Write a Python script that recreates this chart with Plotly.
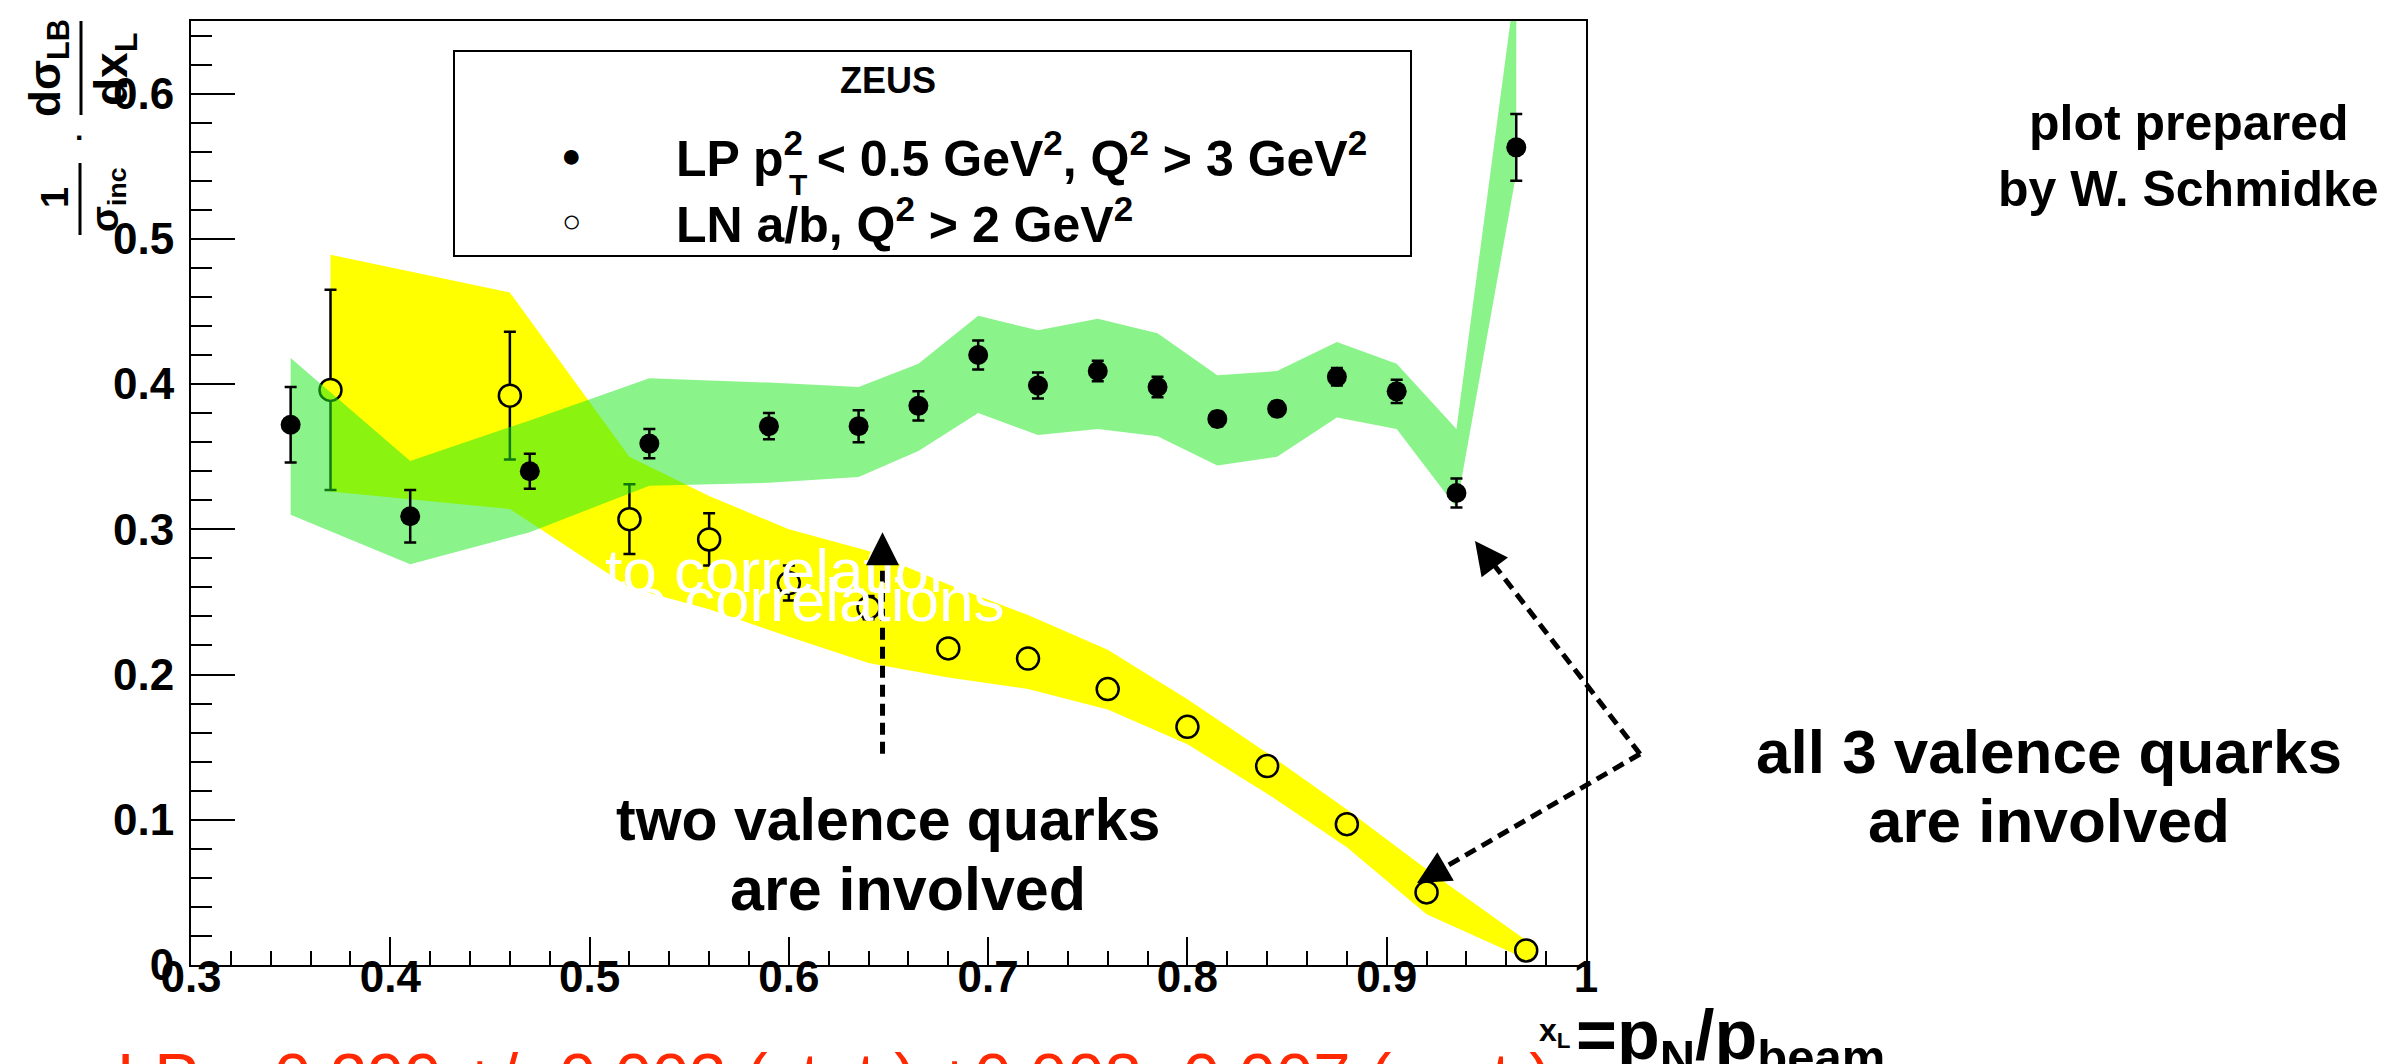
import plotly.graph_objects as go

# ---------------- data ----------------
lp_x = [0.35, 0.41, 0.47, 0.53, 0.59, 0.635, 0.665, 0.695, 0.725, 0.755, 0.785, 0.815, 0.845, 0.875, 0.905, 0.935, 0.965]
lp_y = [0.372, 0.309, 0.340, 0.359, 0.371, 0.371, 0.385, 0.420, 0.399, 0.409, 0.398, 0.376, 0.383, 0.405, 0.395, 0.325, 0.563]
lp_err = [0.026, 0.018, 0.012, 0.010, 0.009, 0.011, 0.010, 0.010, 0.009, 0.007, 0.007, 0.005, 0.005, 0.006, 0.008, 0.010, 0.023]
lp_sys_hi = [0.418, 0.347, 0.375, 0.404, 0.401, 0.398, 0.414, 0.447, 0.437, 0.445, 0.435, 0.406, 0.409, 0.429, 0.414, 0.369, 0.680]
lp_sys_lo = [0.310, 0.276, 0.298, 0.330, 0.332, 0.336, 0.354, 0.380, 0.365, 0.369, 0.364, 0.344, 0.350, 0.377, 0.369, 0.315, 0.545]

ln_x = [0.37, 0.46, 0.52, 0.56, 0.60, 0.64, 0.68, 0.72, 0.76, 0.80, 0.84, 0.88, 0.92, 0.97]
ln_y = [0.396, 0.392, 0.307, 0.293, 0.263, 0.246, 0.218, 0.211, 0.190, 0.164, 0.137, 0.097, 0.050, 0.010]
ln_err = [0.069, 0.044, 0.024, 0.018, 0.012, 0.008, 0.005, 0.004, 0.004, 0.003, 0.003, 0.003, 0.003, 0.002]
ln_sys_hi = [0.489, 0.463, 0.350, 0.323, 0.300, 0.285, 0.262, 0.241, 0.217, 0.183, 0.146, 0.107, 0.066, 0.017]
ln_sys_lo = [0.326, 0.314, 0.260, 0.245, 0.226, 0.208, 0.198, 0.190, 0.176, 0.152, 0.118, 0.081, 0.035, 0.004]

x_range = [0.3, 1.0]
y_range = [0, 0.65]

# ---------------- layout helpers ----------------
W, H = 2402, 1064
L, R, T, B = 183, 1578, 13, 957
FONT = "Liberation Sans, Arial, Helvetica, sans-serif"


def px(X):
    return (X - L) / (R - L)


def py(Y):
    return (B - Y) / (B - T)


def dx(v):
    return (v - x_range[0]) / (x_range[1] - x_range[0])


def dy(v):
    return (v - y_range[0]) / (y_range[1] - y_range[0])


fig = go.Figure()

# yellow band (LN systematics)
fig.add_trace(go.Scatter(
    x=ln_x + ln_x[::-1], y=ln_sys_hi + ln_sys_lo[::-1],
    fill="toself", fillcolor="#ffff00", mode="lines", line=dict(width=0),
    hoverinfo="skip", showlegend=False))

# LN points (error bars hidden by marker body like ROOT)
fig.add_trace(go.Scatter(
    x=ln_x, y=ln_y, mode="markers", name="LN a/b, Q2 > 2 GeV2",
    marker=dict(symbol="circle", size=22, color="#ffff00", line=dict(width=2.5, color="black")),
    error_y=dict(type="data", array=ln_err, color="black", thickness=2.5, width=6),
    showlegend=False))

# green band (LP systematics)
fig.add_trace(go.Scatter(
    x=lp_x + lp_x[::-1], y=lp_sys_hi + lp_sys_lo[::-1],
    fill="toself", fillcolor="rgba(30,232,30,0.52)", mode="lines", line=dict(width=0),
    hoverinfo="skip", showlegend=False))

# LP points
fig.add_trace(go.Scatter(
    x=lp_x, y=lp_y, mode="markers", name="LP pT2 < 0.5 GeV2, Q2 > 3 GeV2",
    marker=dict(symbol="circle", size=20, color="black"),
    error_y=dict(type="data", array=lp_err, color="black", thickness=2.5, width=6),
    showlegend=False))

axis_common = dict(
    showline=True, linewidth=2, linecolor="black", mirror=True,
    ticks="inside", tickwidth=2, tickcolor="black",
    showgrid=False, zeroline=False,
    tickfont=dict(family=FONT, size=44, color="black", weight="bold"),
)

fig.update_xaxes(range=x_range, tick0=0.3, dtick=0.1, ticklen=28, ticklabelstandoff=-28,
                 minor=dict(ticks="inside", dtick=0.02, ticklen=14, tickwidth=2, tickcolor="black"),
                 **axis_common)
fig.update_yaxes(range=y_range, tick0=0, dtick=0.1, ticklen=44, ticklabelstandoff=6,
                 minor=dict(ticks="inside", dtick=0.02, ticklen=21, tickwidth=2, tickcolor="black"),
                 **axis_common)

ann = []
shapes = []


def text(X, Y, s, size, color="black", xanchor="center", yanchor="middle", angle=0, bold=True):
    ann.append(dict(
        x=px(X), y=py(Y), xref="paper", yref="paper", showarrow=False,
        text=("<b>%s</b>" % s) if bold else s, textangle=angle,
        xanchor=xanchor, yanchor=yanchor,
        font=dict(family=FONT, size=size, color=color)))


# legend box
shapes.append(dict(type="rect", xref="paper", yref="paper",
                   x0=px(446), x1=px(1403), y0=py(248), y1=py(43),
                   line=dict(color="black", width=2), fillcolor="white", layer="above"))
text(880, 72, "ZEUS", 36)
text(563, 147, "●", 34)
text(563, 213, "○", 32)
text(666, 147, "LP p<sup>2</sup> &lt; 0.5 GeV<sup>2</sup>, Q<sup>2</sup> &gt; 3 GeV<sup>2</sup>", 50, xanchor="left")
text(790, 177, "T", 30)
text(666, 213, "LN a/b, Q<sup>2</sup> &gt; 2 GeV<sup>2</sup>", 50, xanchor="left")

# y-axis title (rotated fractions)
text(47, 190, "1", 38, angle=-90)
text(100, 192, "σ<sub>inc</sub>", 38, angle=-90)
shapes.append(dict(type="line", xref="paper", yref="paper", x0=px(72), x1=px(72), y0=py(155), y1=py(227),
                   line=dict(color="black", width=3)))
text(72, 130, "·", 30)
text(40, 60, "dσ<sub>LB</sub>", 44, angle=-90)
shapes.append(dict(type="line", xref="paper", yref="paper", x0=px(73), x1=px(73), y0=py(13), y1=py(107),
                   line=dict(color="black", width=3)))
text(106, 62, "dx<sub>L</sub>", 46, angle=-90)

# x-axis title
text(1546, 1024, "x<sub>L</sub>", 32)
text(1566, 1032, "=p<sub>N</sub>/p<sub>beam</sub>", 70, xanchor="left")

# slide annotations
text(2180, 115, "plot prepared", 50)
text(2180, 181, "by W. Schmidke", 50)
text(2041, 743, "all 3 valence quarks", 62)
text(2041, 812, "are involved", 62)
text(880, 812, "two valence quarks", 59)
text(900, 881, "are involved", 61)

# white overlapping text
text(595, 562, "to correlations", 62, color="white", xanchor="left", bold=False)
text(605, 591, "to correlations", 62, color="white", xanchor="left", bold=False)

# red result line (cut at bottom)
text(66, 1068, "r LP = 0.299 +/- 0.003 (stat.) +0.008 -0.007 (syst.)", 67, color="rgb(255,40,0)",
     xanchor="left", bold=False)

# dashed arrows
dash = "12px,7px"
shapes.append(dict(type="line", xref="paper", yref="paper",
                   x0=dx(0.647), y0=dy(0.1455), x1=dx(0.647), y1=dy(0.275),
                   line=dict(color="black", width=5, dash=dash)))
ann.append(dict(x=dx(0.647), y=dy(0.298), xref="paper", yref="paper", ax=0, ay=28,
                showarrow=True, arrowhead=2, arrowsize=2.2, arrowwidth=3, arrowcolor="black", text=""))

shapes.append(dict(type="line", xref="paper", yref="paper",
                   x0=px(1632), y0=py(746), x1=px(1483), y1=py(553),
                   line=dict(color="black", width=5, dash=dash)))
ann.append(dict(x=px(1467), y=py(533), xref="paper", yref="paper", ax=18, ay=24,
                showarrow=True, arrowhead=2, arrowsize=2.2, arrowwidth=3, arrowcolor="black", text=""))

shapes.append(dict(type="line", xref="paper", yref="paper",
                   x0=px(1632), y0=py(746), x1=px(1432), y1=py(862),
                   line=dict(color="black", width=5, dash=dash)))
ann.append(dict(x=px(1409), y=py(875), xref="paper", yref="paper", ax=26, ay=-15,
                showarrow=True, arrowhead=2, arrowsize=2.2, arrowwidth=3, arrowcolor="black", text=""))

fig.update_layout(
    width=W, height=H,
    margin=dict(l=L, r=W - R, t=T, b=H - B, pad=0),
    paper_bgcolor="white", plot_bgcolor="white",
    font=dict(family=FONT, color="black"),
    showlegend=False,
    annotations=ann, shapes=shapes,
)

fig.write_html("out.html")
